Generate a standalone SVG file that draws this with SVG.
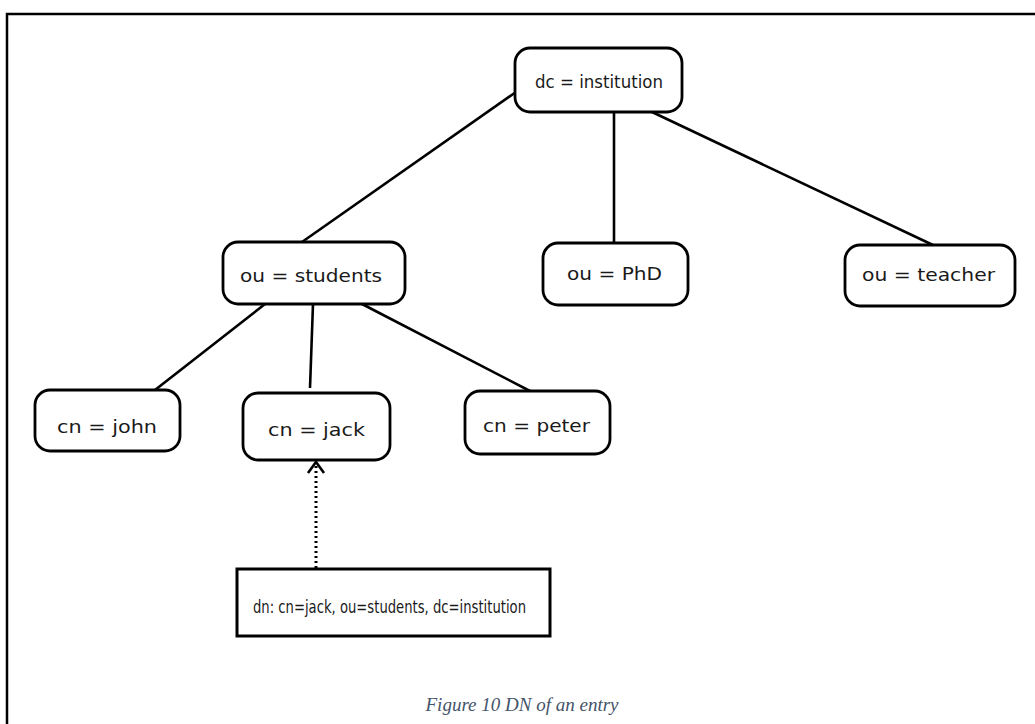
<svg xmlns="http://www.w3.org/2000/svg" width="1035" height="724" viewBox="0 0 1035 724">
<defs>
<style>
.node rect{fill:#fff;stroke:#000;stroke-width:2.8}
.node text{font-family:"DejaVu Sans","Liberation Sans",sans-serif;font-size:18.5px;fill:#1a1a1a}
.edge{stroke:#000;stroke-width:2.6;fill:none}
.dotted{stroke:#000;stroke-width:3;stroke-dasharray:2 3;fill:none}
.cap{font-family:"Liberation Serif",serif;font-style:italic;font-size:19px;fill:#44546A;text-anchor:middle}
</style>
</defs>
<rect width="1035" height="724" fill="#fff"/>
<path d="M7,724 V14 H1035" fill="none" stroke="#000" stroke-width="2.5"/>
<g id="connectors">
<line class="edge" x1="516" y1="92" x2="302" y2="242"/>
<line class="edge" x1="614" y1="112" x2="614" y2="243"/>
<line class="edge" x1="652" y1="112" x2="935" y2="246"/>
<line class="edge" x1="265" y1="304" x2="155" y2="390"/>
<line class="edge" x1="313" y1="304" x2="310" y2="388"/>
<line class="edge" x1="362" y1="304" x2="530" y2="391"/>
<line class="dotted" x1="316" y1="568" x2="316" y2="466"/>
<path d="M308,473 L316,462 L324,473" fill="none" stroke="#000" stroke-width="2.6"/>
</g>
<g id="n-institution" class="node"><rect x="515" y="48" width="167" height="64" rx="15"/><text x="535" y="88" textLength="128" lengthAdjust="spacingAndGlyphs">dc = institution</text></g>
<g id="n-students" class="node"><rect x="223" y="242" width="182" height="62" rx="15"/><text x="240" y="282" textLength="142" lengthAdjust="spacingAndGlyphs">ou = students</text></g>
<g id="n-phd" class="node"><rect x="543" y="243" width="145" height="62" rx="15"/><text x="567" y="280" textLength="95" lengthAdjust="spacingAndGlyphs">ou = PhD</text></g>
<g id="n-teacher" class="node"><rect x="845" y="245" width="170" height="61" rx="15"/><text x="862" y="281" textLength="133" lengthAdjust="spacingAndGlyphs">ou = teacher</text></g>
<g id="n-john" class="node"><rect x="35" y="390" width="145" height="61" rx="15"/><text x="57" y="433" textLength="100" lengthAdjust="spacingAndGlyphs">cn = john</text></g>
<g id="n-jack" class="node"><rect x="243" y="393" width="147" height="67" rx="15"/><text x="268" y="436" textLength="97" lengthAdjust="spacingAndGlyphs">cn = jack</text></g>
<g id="n-peter" class="node"><rect x="465" y="391" width="145" height="63" rx="15"/><text x="483" y="432" textLength="107" lengthAdjust="spacingAndGlyphs">cn = peter</text></g>
<g id="n-dn" class="node"><rect x="237" y="569" width="313" height="67" style="stroke-width:3"/><text x="253" y="613" textLength="273" lengthAdjust="spacingAndGlyphs">dn: cn=jack, ou=students, dc=institution</text></g>
<text class="cap" x="522" y="711">Figure 10 DN of an entry</text>
</svg>
